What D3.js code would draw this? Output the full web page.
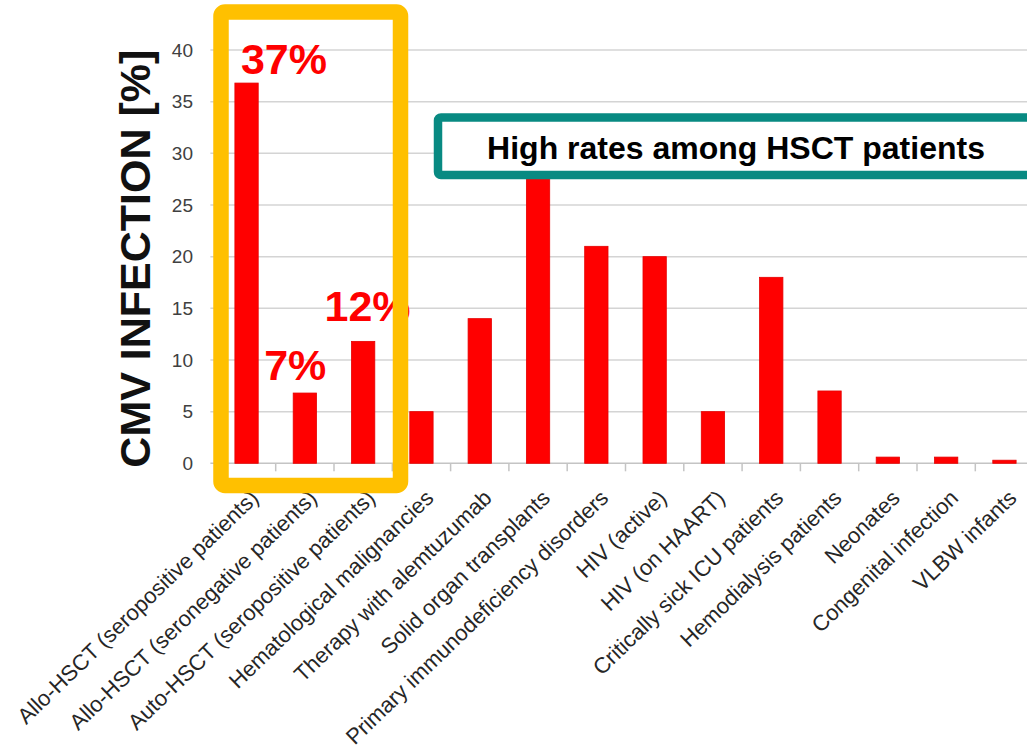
<!DOCTYPE html>
<html>
<head>
<meta charset="utf-8">
<script src="https://cdn.jsdelivr.net/npm/d3@7"></script>
<style>
  html, body { margin: 0; padding: 0; background: #ffffff; }
  svg { display: block; font-family: "Liberation Sans", Arial, sans-serif; }
</style>
</head>
<body>
<svg id="chart" width="1027" height="752"></svg>
<script>
// ---- data ----
const categories = [
  "Allo-HSCT (seropositive patients)",
  "Allo-HSCT (seronegative patients)",
  "Auto-HSCT (seropositive patients)",
  "Hematological malignancies",
  "Therapy with alemtuzumab",
  "Solid organ transplants",
  "Primary immunodeficiency disorders",
  "HIV (active)",
  "HIV (on HAART)",
  "Critically sick ICU patients",
  "Hemodialysis patients",
  "Neonates",
  "Congenital infection",
  "VLBW infants"
];
const values = [36.8, 6.8, 11.8, 5, 14, 30, 21, 20, 5, 18, 7, 0.6, 0.6, 0.3];
const yTicks = [0, 5, 10, 15, 20, 25, 30, 35, 40];
const yTitle = "CMV INFECTION [%]";
const pctCategories = [categories[0], categories[1], categories[2]];
const pctLabels = ["37%", "7%", "12%"];
const calloutText = "High rates among HSCT patients";

// ---- layout ----
const svg = d3.select("#chart");
const plot = { left: 217.4, right: 1033.6, top: 50, bottom: 463.3 };

const x = d3.scaleBand()
  .domain(categories)
  .range([plot.left, plot.right])
  .paddingInner(0.6)
  .paddingOuter(0.3);

const y = d3.scaleLinear()
  .domain([0, 40])
  .range([plot.bottom, plot.top]);

// gridlines
svg.append("g").selectAll("line")
  .data(yTicks.filter(d => d > 0))
  .join("line")
  .attr("x1", plot.left - 7)
  .attr("x2", plot.right)
  .attr("y1", d => y(d))
  .attr("y2", d => y(d))
  .attr("stroke", "#d4d4d4")
  .attr("stroke-width", 1.5);

// y tick labels
svg.append("g").selectAll("text")
  .data(yTicks)
  .join("text")
  .attr("x", 193)
  .attr("y", d => y(d))
  .attr("dy", "0.35em")
  .attr("text-anchor", "end")
  .attr("font-size", 19)
  .attr("fill", "#404040")
  .text(d => d);

// y title
svg.append("text")
  .attr("transform", `translate(150, ${(plot.top + plot.bottom) / 2 + 2}) rotate(-90)`)
  .attr("text-anchor", "middle")
  .attr("font-size", 43)
  .attr("font-weight", "bold")
  .attr("fill", "#111")
  .text(yTitle);

// x axis baseline + boundary ticks
svg.append("line")
  .attr("x1", plot.left - 7).attr("x2", plot.right)
  .attr("y1", y(0)).attr("y2", y(0))
  .attr("stroke", "#c4c4c4").attr("stroke-width", 1.5);

const step = x.step();
svg.append("g").selectAll("line")
  .data(d3.range(categories.length + 1))
  .join("line")
  .attr("x1", i => plot.left + i * step)
  .attr("x2", i => plot.left + i * step)
  .attr("y1", y(0))
  .attr("y2", y(0) + 8)
  .attr("stroke", "#c4c4c4")
  .attr("stroke-width", 1.5);

// bars
svg.append("g").selectAll("rect")
  .data(values)
  .join("rect")
  .attr("x", (d, i) => x(categories[i]))
  .attr("y", d => y(d))
  .attr("width", x.bandwidth())
  .attr("height", d => y(0) - y(d))
  .attr("fill", "#ff0000")
  .attr("stroke", "#e60000")
  .attr("stroke-width", 0.8);

// category labels
svg.append("g").selectAll("text")
  .data(categories)
  .join("text")
  .attr("transform", d => `translate(${x(d) + x.bandwidth() / 2 + 8}, 494) rotate(-44)`)
  .attr("text-anchor", "end")
  .attr("dy", "0.35em")
  .attr("font-size", 22)
  .attr("fill", "#262626")
  .text(d => d);

// percentage annotations
const pctOffset = [ { dx: 6, dy: -9 }, { dx: -29, dy: -13 }, { dx: -27, dy: -20 } ];
svg.append("g").selectAll("text")
  .data(pctLabels)
  .join("text")
  .attr("x", (d, i) => x(pctCategories[i]) + pctOffset[i].dx)
  .attr("y", (d, i) => y(values[i]) + pctOffset[i].dy)
  .attr("font-size", 43)
  .attr("font-weight", "bold")
  .attr("fill", "#ff0000")
  .text(d => d);

// teal callout
svg.append("rect")
  .attr("x", 438).attr("y", 117.5)
  .attr("width", 596).attr("height", 57.5)
  .attr("rx", 3)
  .attr("fill", "#ffffff")
  .attr("stroke", "#088a82")
  .attr("stroke-width", 8.5);
svg.append("text")
  .attr("x", 736).attr("y", 159)
  .attr("text-anchor", "middle")
  .attr("font-size", 32)
  .attr("font-weight", "bold")
  .attr("fill", "#000")
  .text(calloutText);

// orange highlight box
svg.append("rect")
  .attr("x", 221).attr("y", 12)
  .attr("width", 179.5).attr("height", 473.5)
  .attr("rx", 4)
  .attr("fill", "none")
  .attr("stroke", "#ffc000")
  .attr("stroke-width", 15.5);
</script>
</body>
</html>
